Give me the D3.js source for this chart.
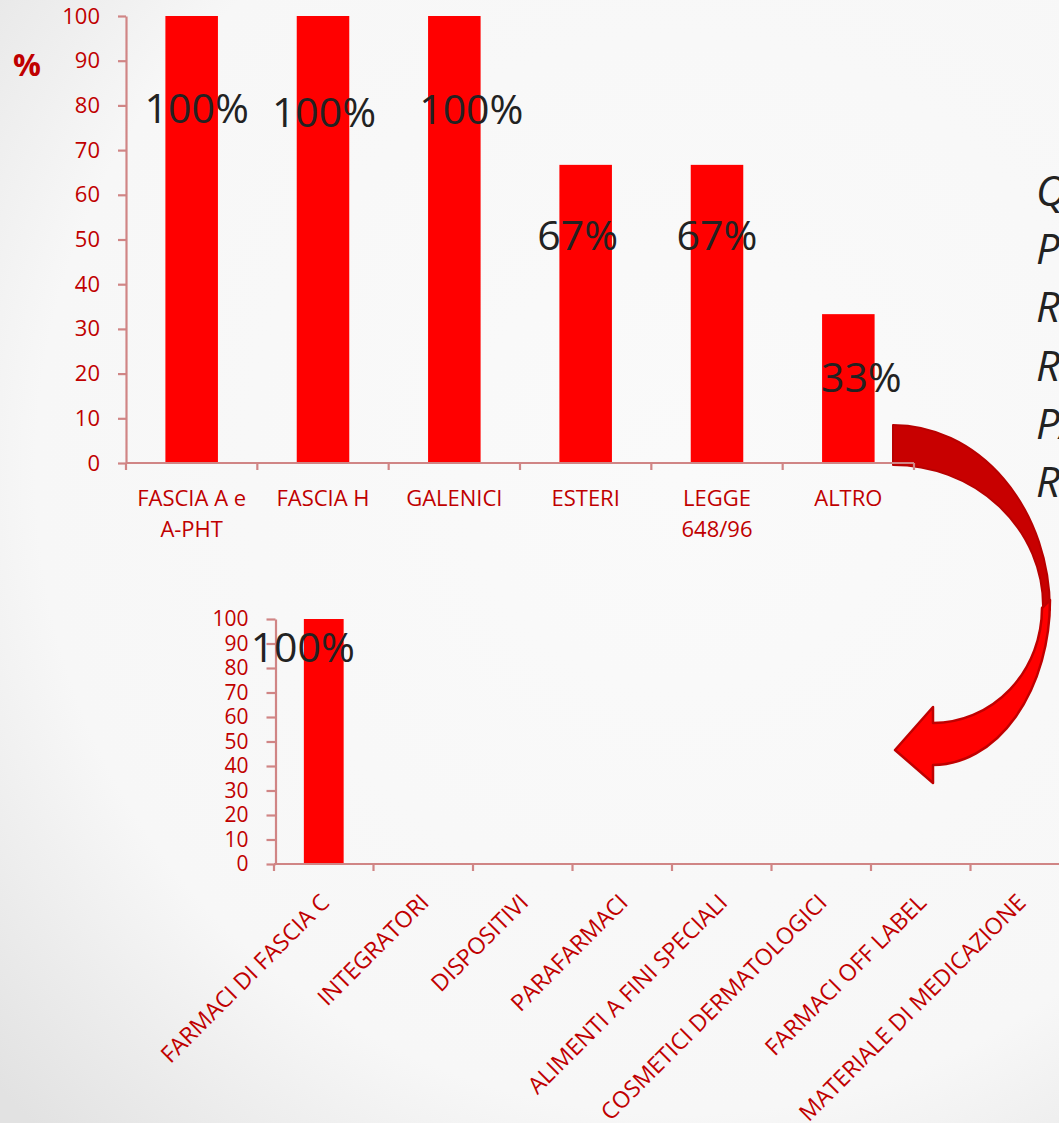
<!DOCTYPE html>
<html>
<head>
<meta charset="utf-8">
<script src="https://cdn.jsdelivr.net/npm/d3@7"></script>
<style>
  html, body { margin: 0; padding: 0; overflow: hidden; }
  svg { display: block; }
  text { font-family: "Open Sans", "Noto Sans", sans-serif; }
</style>
</head>
<body>
<script>
// ---------- DATA ----------
const topCategories = [["FASCIA A e", "A-PHT"], ["FASCIA H"], ["GALENICI"], ["ESTERI"], ["LEGGE", "648/96"], ["ALTRO"]];
const topValues = [100, 100, 100, 66.7, 66.7, 33.3];
const bottomCategories = ["FARMACI DI FASCIA C", "INTEGRATORI", "DISPOSITIVI", "PARAFARMACI",
  "ALIMENTI A FINI SPECIALI", "COSMETICI DERMATOLOGICI", "FARMACI OFF LABEL", "MATERIALE DI MEDICAZIONE"];
const bottomValues = [100, 0, 0, 0, 0, 0, 0, 0];
const yTicks = [0, 10, 20, 30, 40, 50, 60, 70, 80, 90, 100];
const sideText = ["Q", "P", "R", "R", "PA", "R"];

// label placement (layout only): baseline in axis units, horizontal nudge in px
const topLabelBase = [76.1, 75.2, 75.8, 47.7, 47.7, 15.9];
const topLabelDx = [5, 1, 17, -8, 0, 13];
const bottomLabelBase = [82.4];
const bottomLabelDx = [-21];

// ---------- STYLE ----------
const W = 1059, H = 1123;
const RED = "#ff0000", DARKRED = "#c00000", AXIS = "#d08585", TXT = "#222222";
const pct = d3.format(".0%");

const svg = d3.select("body").append("svg").attr("width", W).attr("height", H);
const defs = svg.append("defs");
const grad = defs.append("radialGradient").attr("id", "bg")
  .attr("gradientUnits", "userSpaceOnUse").attr("cx", 680).attr("cy", 470).attr("r", 920);
grad.append("stop").attr("offset", "0").attr("stop-color", "#fafafa");
grad.append("stop").attr("offset", "0.7").attr("stop-color", "#f7f7f7");
grad.append("stop").attr("offset", "1").attr("stop-color", "#e2e2e2");
svg.append("rect").attr("width", W).attr("height", H).attr("fill", "url(#bg)");

// ---------- CURVED ARROW (decoration) ----------
const arrow = svg.append("g");
arrow.append("path")
  .attr("d", "M893,425 A157,185 0 0,1 1050,610 L1043,606 A150,141 0 0,0 893,465 Z")
  .attr("fill", "#c80000").attr("stroke", "#b80000").attr("stroke-width", 2).attr("stroke-linejoin", "round");
arrow.append("path")
  .attr("d", "M1050,600 A117,165 0 0,1 933,765 L933,783 L895,750 L933,707 L933,723 A109,115 0 0,0 1042,608 Z")
  .attr("fill", "#ff0000").attr("stroke", "#c00000").attr("stroke-width", 2.5).attr("stroke-linejoin", "round");

// ---------- TOP CHART ----------
const t = { left: 126, right: 914, top: 16, bottom: 463 };
const xT = d3.scaleBand().domain(d3.range(topValues.length)).range([t.left, t.right])
  .paddingInner(0.6).paddingOuter(0.3);
const yT = d3.scaleLinear().domain([0, 100]).range([t.bottom, t.top]);
const gT = svg.append("g");

gT.selectAll("rect.bar").data(topValues).join("rect").attr("class", "bar")
  .attr("x", (d, i) => xT(i)).attr("width", xT.bandwidth())
  .attr("y", d => yT(d)).attr("height", d => yT(0) - yT(d)).attr("fill", RED);

function styleAxis(g, fs) {
  g.select(".domain").attr("stroke", AXIS).attr("stroke-width", 2.2);
  g.selectAll(".tick line").attr("stroke", AXIS).attr("stroke-width", 2.2);
  g.selectAll(".tick text").attr("fill", DARKRED).attr("font-size", fs);
}

const yAxT = d3.axisLeft(yT).tickValues(yTicks).tickSize(8).tickPadding(18).tickSizeOuter(0);
gT.append("g").attr("transform", `translate(${t.left},0)`).call(yAxT).call(g => styleAxis(g, 22))
  .selectAll(".tick text").attr("font-family", "Open Sans");

// x axis with ticks at category boundaries
function catAxis(g, scale, y0, n) {
  const half = (scale.step() - scale.bandwidth()) / 2;
  const bounds = d3.range(n + 1).map(i => (i < n ? scale(i) - half : scale(n - 1) + scale.bandwidth() + half));
  g.append("line").attr("x1", scale.range()[0]).attr("x2", scale.range()[1])
    .attr("y1", y0).attr("y2", y0).attr("stroke", AXIS).attr("stroke-width", 2.2);
  g.selectAll("line.tk").data(bounds).join("line").attr("class", "tk")
    .attr("x1", d => d).attr("x2", d => d).attr("y1", y0).attr("y2", y0 + 7)
    .attr("stroke", AXIS).attr("stroke-width", 2.2);
}
catAxis(gT.append("g"), xT, t.bottom, topValues.length);

gT.selectAll("text.cat").data(topCategories).join("text").attr("class", "cat")
  .attr("text-anchor", "middle").attr("fill", DARKRED).attr("font-size", 22)
  .each(function (lines, i) {
    d3.select(this).selectAll("tspan").data(lines).join("tspan")
      .attr("x", xT(i) + xT.bandwidth() / 2)
      .attr("y", (l, j) => 506 + j * 31).text(l => l);
  });

gT.selectAll("text.lab").data(topValues).join("text").attr("class", "lab")
  .attr("x", (d, i) => xT(i) + xT.bandwidth() / 2 + topLabelDx[i])
  .attr("y", (d, i) => yT(topLabelBase[i]))
  .attr("text-anchor", "middle").attr("font-size", 41).attr("fill", TXT)
  .text(d => pct(d / 100));

svg.append("text").attr("x", 13).attr("y", 76).attr("font-size", 31).attr("font-weight", "bold")
  .attr("fill", DARKRED).text("%");

// ---------- BOTTOM CHART ----------
const b = { left: 274, right: 1070, top: 619, bottom: 864 };
const xB = d3.scaleBand().domain(d3.range(bottomValues.length)).range([b.left, b.right])
  .paddingInner(0.6).paddingOuter(0.3);
const yB = d3.scaleLinear().domain([0, 100]).range([b.bottom, b.top]);
const gB = svg.append("g");

gB.selectAll("rect.bar").data(bottomValues).join("rect").attr("class", "bar")
  .attr("x", (d, i) => xB(i)).attr("width", xB.bandwidth())
  .attr("y", d => yB(d)).attr("height", d => yB(0) - yB(d)).attr("fill", RED);

const yAxB = d3.axisLeft(yB).tickValues(yTicks).tickSize(9).tickPadding(18).tickSizeOuter(0);
gB.append("g").attr("transform", `translate(${b.left + 1.5},0)`).call(yAxB).call(g => styleAxis(g, 21));

catAxis(gB.append("g"), xB, b.bottom, bottomValues.length);

gB.selectAll("text.cat").data(bottomCategories).join("text").attr("class", "cat")
  .attr("transform", (d, i) => `translate(${xB(i) + xB.bandwidth() / 2 + 7},904) rotate(-45)`)
  .attr("text-anchor", "end").attr("fill", DARKRED).attr("font-size", 23)
  .text(d => d);

gB.selectAll("text.lab").data(bottomValues.filter(v => v > 0)).join("text").attr("class", "lab")
  .attr("x", (d, i) => xB(i) + xB.bandwidth() / 2 + bottomLabelDx[i])
  .attr("y", (d, i) => yB(bottomLabelBase[i]))
  .attr("text-anchor", "middle").attr("font-size", 41).attr("fill", TXT)
  .text(d => pct(d / 100));

// ---------- SIDE TEXT (clipped at right edge) ----------
svg.append("g").selectAll("text").data(sideText).join("text")
  .attr("x", 1036).attr("y", (d, i) => 206 + i * 58.2)
  .attr("font-size", 42).attr("font-style", "italic").attr("fill", TXT)
  .text(d => d);
</script>
</body>
</html>
